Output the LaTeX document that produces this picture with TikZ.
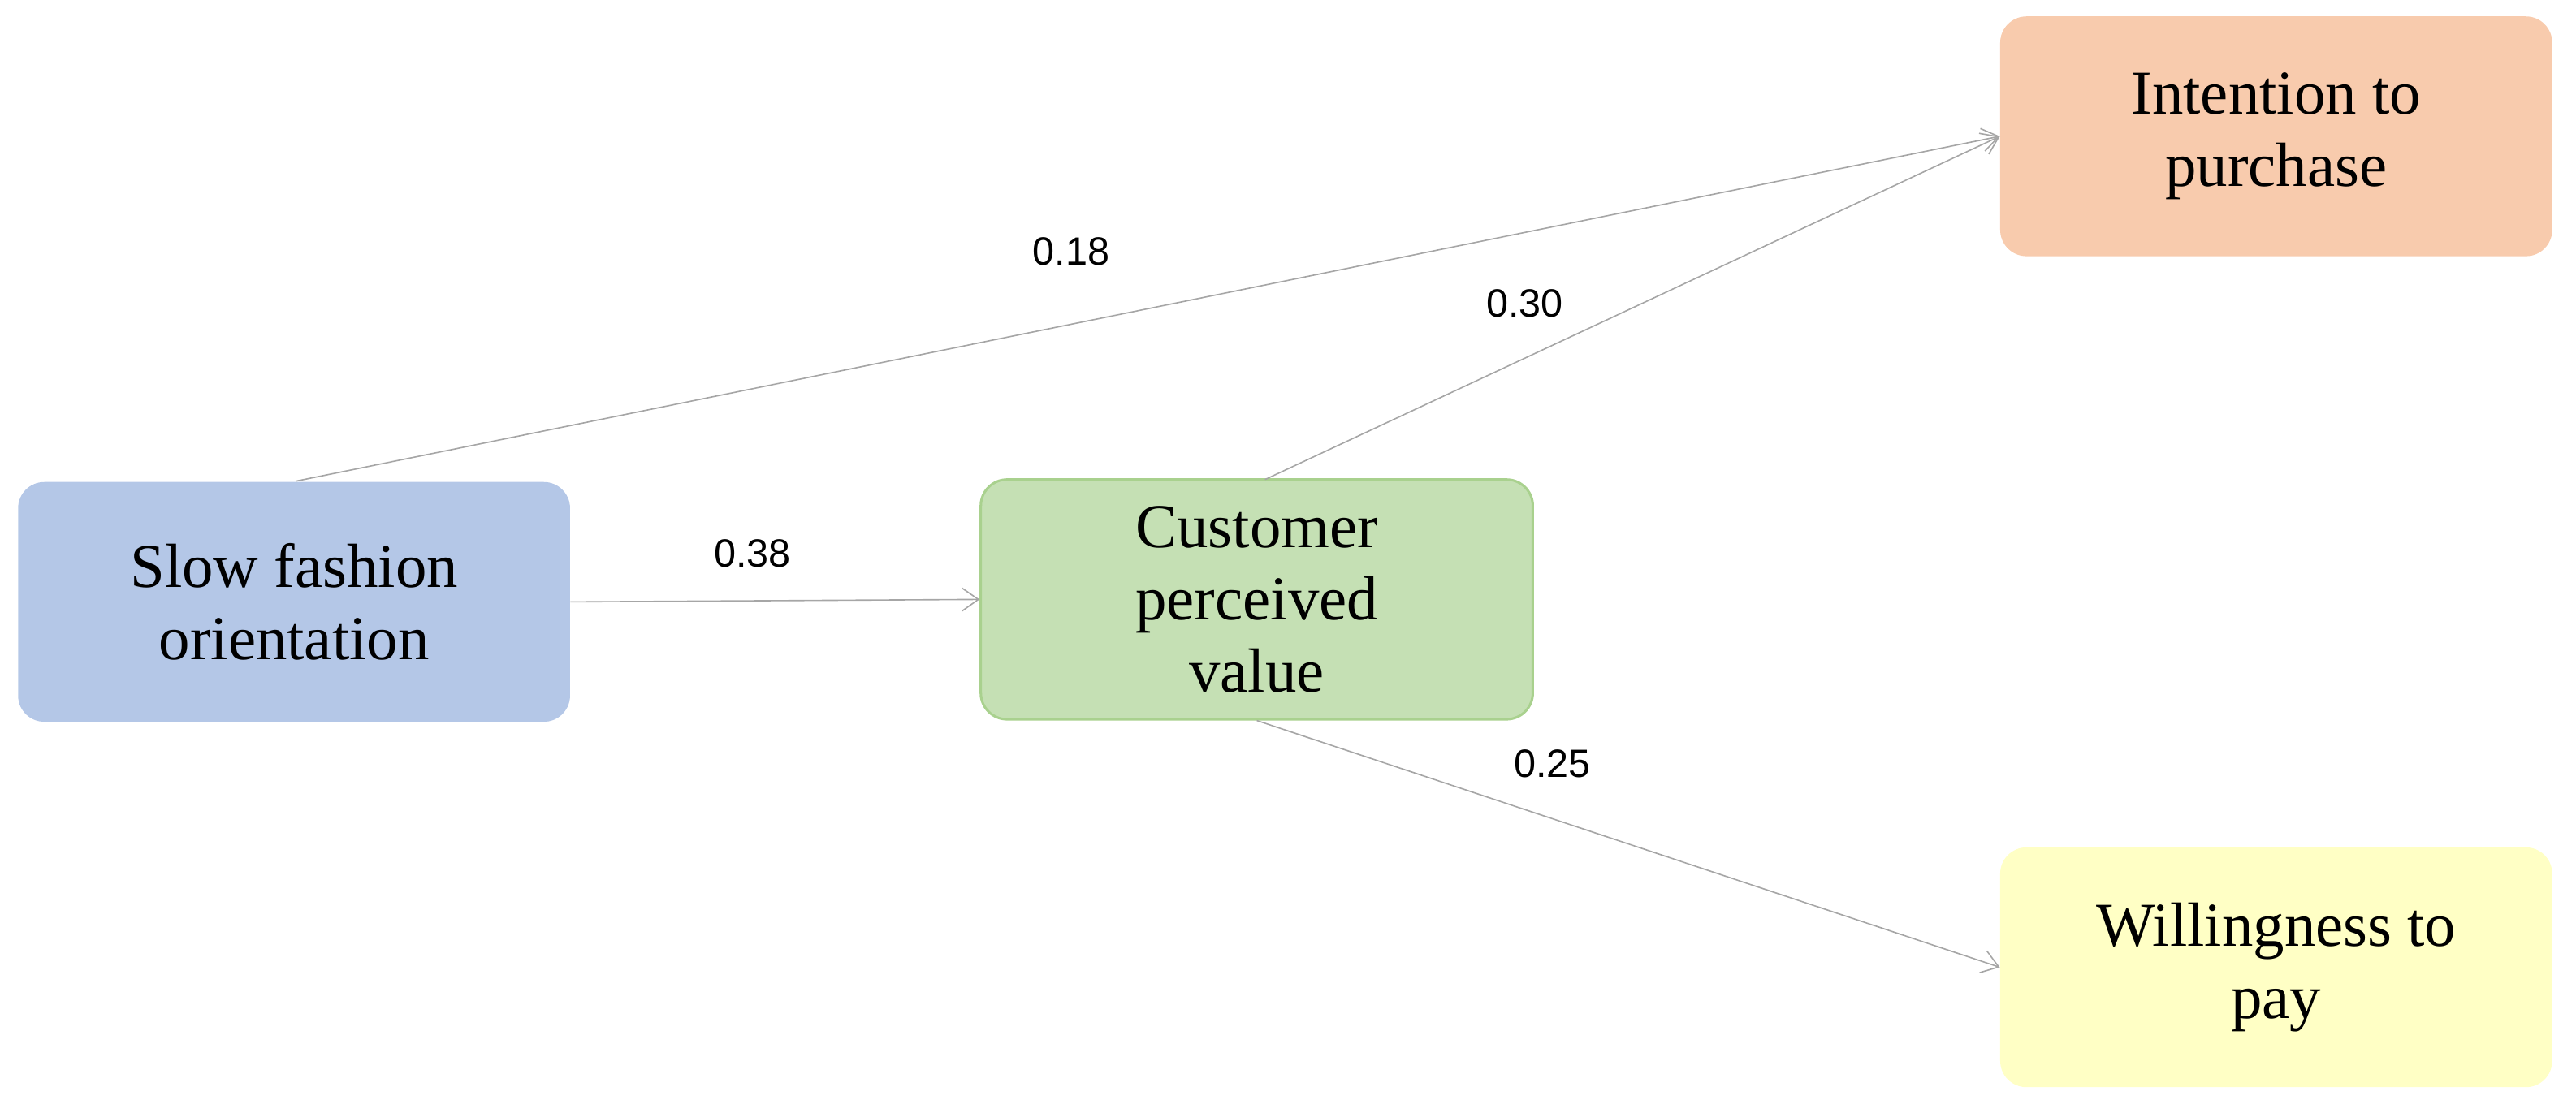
\documentclass[tikz,border=0pt]{standalone}
\usepackage{fontspec}
\setmainfont{Liberation Serif}
\newfontfamily\numfont{Liberation Sans}
\usetikzlibrary{arrows.meta}
\definecolor{bluef}{HTML}{B4C7E7}
\definecolor{greenf}{HTML}{C5E0B4}
\definecolor{greend}{HTML}{A9D18E}
\definecolor{oranf}{HTML}{F8CBAD}
\definecolor{yelf}{HTML}{FFFFC5}
\tikzset{
 box/.style={rounded corners=16pt,minimum width=336pt,minimum height=146pt,inner sep=0pt,align=center,font=\fontsize{38}{44}\selectfont},
 conn/.style={draw=gray!70,line width=0.8pt,-{Straight Barb[length=10pt,width=14pt]}},
 lab/.style={font=\numfont\fontsize{24}{28}\selectfont}
}
\begin{document}
\begin{tikzpicture}[x=1pt,y=-1pt]
\useasboundingbox (0,0) rectangle (1568,680);
\node[box,fill=bluef] (s) at (179,366.5) {Slow fashion\\orientation};
\node[box,fill=greenf,draw=greend,line width=1.5pt] (c) at (765,365) {Customer\\perceived\\value};
\node[box,fill=oranf] (i) at (1385.5,83) {Intention to\\purchase};
\node[box,fill=yelf] (w) at (1385.5,589) {Willingness to\\pay};
\draw[conn] (180,293) -- (i.west);
\draw[conn] (s.east) -- (c.west);
\draw[conn] (770,292) -- (i.west);
\draw[conn] (c.south) -- (w.west);
\node[lab] at (652,153) {0.18};
\node[lab] at (458,337) {0.38};
\node[lab] at (928,185) {0.30};
\node[lab] at (945,465) {0.25};
\end{tikzpicture}
\end{document}
